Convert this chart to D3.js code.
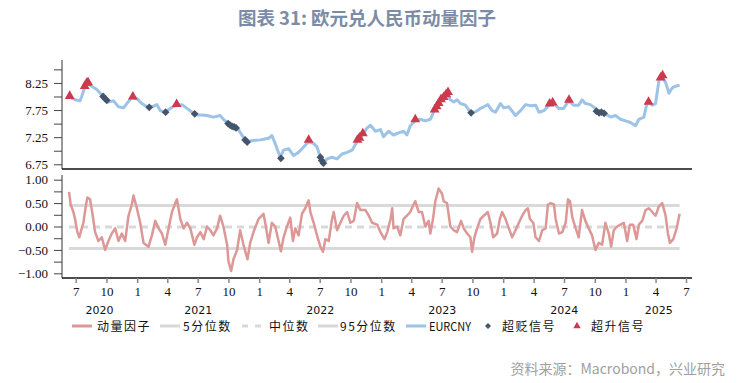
<!DOCTYPE html>
<html><head><meta charset="utf-8">
<script src="https://cdn.jsdelivr.net/npm/d3@7"></script>
<style>body{margin:0;background:#fff} svg{display:block}</style>
</head><body><svg id="c" width="753" height="383"></svg>
<script>
// ---------- DATA ----------
const title = "图表 31: 欧元兑人民币动量因子";
const source = "资料来源：Macrobond，兴业研究";

const eurcnyDates = ["2020-06-09","2020-06-29","2020-07-14","2020-07-19","2020-07-29","2020-08-05","2020-08-18","2020-09-02","2020-09-17","2020-09-27","2020-10-07","2020-10-22","2020-11-06","2020-11-21","2020-12-01","2020-12-16","2020-12-31","2021-01-15","2021-01-30","2021-02-14","2021-03-01","2021-03-11","2021-03-26","2021-04-10","2021-04-25","2021-05-15","2021-05-30","2021-06-14","2021-06-29","2021-07-14","2021-07-29","2021-08-17","2021-09-06","2021-09-16","2021-10-01","2021-10-16","2021-10-31","2021-11-10","2021-11-25","2021-12-15","2022-01-04","2022-01-14","2022-01-29","2022-02-08","2022-02-18","2022-03-05","2022-03-15","2022-03-30","2022-04-14","2022-04-29","2022-05-14","2022-05-29","2022-06-13","2022-06-23","2022-07-03","2022-07-11","2022-07-23","2022-08-07","2022-08-22","2022-09-06","2022-09-21","2022-10-06","2022-10-21","2022-11-05","2022-11-20","2022-11-30","2022-12-15","2022-12-30","2023-01-08","2023-01-23","2023-02-07","2023-02-22","2023-03-09","2023-03-19","2023-03-29","2023-04-13","2023-04-28","2023-05-13","2023-05-28","2023-06-07","2023-06-22","2023-07-07","2023-07-20","2023-07-27","2023-08-06","2023-08-16","2023-08-26","2023-09-10","2023-09-25","2023-10-10","2023-10-25","2023-11-04","2023-11-16","2023-11-29","2023-12-09","2023-12-24","2024-01-03","2024-01-18","2024-02-07","2024-02-22","2024-03-08","2024-03-23","2024-04-07","2024-04-17","2024-05-02","2024-05-22","2024-06-05","2024-06-15","2024-06-30","2024-07-15","2024-07-30","2024-08-14","2024-08-24","2024-09-03","2024-09-18","2024-10-03","2024-10-13","2024-11-02","2024-11-17","2024-12-02","2024-12-17","2025-01-01","2025-01-16","2025-01-31","2025-02-10","2025-02-25","2025-03-05","2025-03-12","2025-03-22","2025-04-01","2025-04-11","2025-04-18","2025-05-01","2025-05-11","2025-05-21","2025-05-31","2025-06-12"];
const eurcnyValues = [8.00,7.94,7.92,8.00,8.19,8.24,8.19,8.13,8.03,7.95,7.90,7.92,7.81,7.79,7.87,7.98,7.96,7.87,7.81,7.81,7.85,7.74,7.71,7.78,7.83,7.85,7.78,7.71,7.66,7.66,7.65,7.62,7.65,7.58,7.50,7.44,7.39,7.29,7.17,7.19,7.20,7.21,7.23,7.28,7.13,6.88,7.01,7.04,6.91,6.97,7.07,7.17,7.13,7.07,6.88,6.76,6.85,6.88,6.85,6.94,6.97,7.01,7.17,7.29,7.42,7.47,7.36,7.39,7.26,7.36,7.29,7.33,7.36,7.29,7.46,7.55,7.58,7.55,7.58,7.71,7.87,7.97,8.06,7.94,7.90,7.94,7.87,7.84,7.71,7.72,7.78,7.81,7.85,7.74,7.71,7.87,7.79,7.81,7.65,7.74,7.85,7.83,7.84,7.71,7.74,7.87,7.85,7.78,7.78,7.92,7.84,7.84,7.94,7.87,7.85,7.78,7.70,7.68,7.62,7.65,7.58,7.55,7.52,7.46,7.58,7.62,7.84,7.90,7.84,7.87,8.29,8.38,8.26,8.06,8.16,8.19,8.21];

const upDates = ["2020-06-13","2020-07-28","2020-08-03","2020-08-07","2020-12-19","2021-04-29","2022-05-29","2022-10-22","2022-10-28","2022-11-07","2023-04-13","2023-06-10","2023-06-16","2023-06-22","2023-06-29","2023-07-07","2023-07-14","2023-07-20","2024-05-19","2024-05-28","2024-07-16","2025-03-11","2025-04-16","2025-04-22"];
const upValues = [7.99,8.17,8.23,8.24,7.98,7.84,7.18,7.18,7.22,7.30,7.56,7.74,7.80,7.86,7.93,7.97,8.02,8.06,7.85,7.87,7.92,7.88,8.33,8.37];

const downDates = ["2020-09-21","2020-09-27","2020-10-02","2021-02-06","2021-03-27","2021-06-22","2021-09-30","2021-10-06","2021-10-12","2021-10-18","2021-10-24","2021-11-20","2021-11-26","2022-03-07","2022-07-03","2022-07-07","2022-07-12","2023-09-27","2024-10-06","2024-10-14","2024-10-21","2024-10-29"];
const downValues = [8.00,7.96,7.93,7.80,7.71,7.68,7.50,7.47,7.45,7.44,7.42,7.20,7.16,6.86,6.88,6.82,6.77,7.70,7.73,7.70,7.71,7.69];

const momDates = ["2020-06-11","2020-06-16","2020-06-24","2020-06-29","2020-07-06","2020-07-12","2020-07-19","2020-07-24","2020-08-01","2020-08-05","2020-08-13","2020-08-21","2020-08-28","2020-09-07","2020-09-17","2020-09-27","2020-10-07","2020-10-17","2020-10-27","2020-11-06","2020-11-16","2020-11-26","2020-12-06","2020-12-16","2020-12-21","2020-12-31","2021-01-10","2021-01-20","2021-02-04","2021-02-14","2021-02-24","2021-03-06","2021-03-16","2021-03-26","2021-04-05","2021-04-15","2021-04-25","2021-04-30","2021-05-10","2021-05-20","2021-05-30","2021-06-09","2021-06-21","2021-06-29","2021-07-09","2021-07-19","2021-07-29","2021-08-08","2021-08-17","2021-08-28","2021-09-06","2021-09-16","2021-09-27","2021-10-01","2021-10-09","2021-10-16","2021-10-27","2021-11-05","2021-11-15","2021-11-27","2021-12-05","2021-12-17","2021-12-30","2022-01-14","2022-01-19","2022-01-29","2022-02-08","2022-02-18","2022-02-28","2022-03-07","2022-03-15","2022-03-25","2022-04-04","2022-04-12","2022-04-19","2022-04-29","2022-05-09","2022-05-19","2022-05-29","2022-06-03","2022-06-13","2022-06-23","2022-07-03","2022-07-11","2022-07-18","2022-07-28","2022-08-07","2022-08-12","2022-08-22","2022-09-01","2022-09-11","2022-09-21","2022-10-01","2022-10-11","2022-10-21","2022-10-31","2022-11-15","2022-11-25","2022-12-05","2022-12-20","2022-12-30","2023-01-11","2023-01-19","2023-01-29","2023-02-03","2023-02-07","2023-02-18","2023-02-27","2023-03-09","2023-03-19","2023-03-29","2023-04-08","2023-04-13","2023-04-23","2023-05-03","2023-05-13","2023-05-23","2023-05-28","2023-06-05","2023-06-12","2023-06-22","2023-07-02","2023-07-07","2023-07-17","2023-07-27","2023-08-06","2023-08-16","2023-08-28","2023-09-05","2023-09-15","2023-09-25","2023-09-30","2023-10-07","2023-10-15","2023-10-25","2023-11-04","2023-11-16","2023-11-24","2023-12-02","2023-12-14","2023-12-22","2023-12-29","2024-01-08","2024-01-18","2024-01-28","2024-02-07","2024-02-17","2024-02-27","2024-03-08","2024-03-15","2024-03-21","2024-03-31","2024-04-07","2024-04-17","2024-04-27","2024-05-07","2024-05-14","2024-05-22","2024-06-01","2024-06-06","2024-06-16","2024-06-26","2024-07-06","2024-07-13","2024-07-19","2024-07-26","2024-08-05","2024-08-14","2024-08-24","2024-09-03","2024-09-13","2024-09-23","2024-10-03","2024-10-13","2024-10-23","2024-11-02","2024-11-12","2024-11-19","2024-11-27","2024-12-07","2024-12-17","2024-12-27","2025-01-06","2025-01-14","2025-01-24","2025-02-03","2025-02-10","2025-02-20","2025-03-02","2025-03-12","2025-03-22","2025-04-01","2025-04-11","2025-04-21","2025-05-01","2025-05-08","2025-05-14","2025-05-24","2025-06-03","2025-06-12"];
const momValues = [0.74,0.47,0.31,0.16,-0.12,-0.23,-0.04,0.08,0.47,0.62,0.58,0.23,-0.12,-0.31,-0.23,-0.50,-0.31,-0.15,-0.04,-0.31,-0.15,-0.31,0.23,0.47,0.66,0.39,0.08,-0.35,-0.43,-0.19,0.12,-0.04,-0.15,-0.39,-0.04,0.31,0.50,0.58,0.16,-0.04,0.08,-0.04,-0.39,-0.23,-0.12,-0.27,0.00,-0.08,-0.19,-0.04,0.23,0.00,-0.39,-0.74,-0.95,-0.70,-0.50,-0.08,-0.39,-0.70,-0.35,-0.08,0.16,0.27,0.08,-0.35,0.08,0.00,-0.31,-0.53,-0.23,0.00,0.19,-0.31,-0.04,-0.19,0.27,0.39,0.56,0.31,0.08,-0.19,-0.43,-0.54,-0.27,-0.31,0.16,0.31,-0.08,0.08,0.23,0.31,0.08,0.12,0.50,0.35,0.35,0.23,0.08,0.04,-0.12,-0.27,-0.12,0.16,0.39,-0.04,0.00,-0.19,0.16,0.23,0.31,0.47,0.54,0.31,0.31,0.00,0.12,-0.15,0.16,0.54,0.81,0.70,0.54,0.50,0.00,-0.08,-0.12,0.12,-0.04,-0.15,-0.23,-0.54,-0.23,-0.04,0.16,0.23,0.31,0.08,-0.23,-0.15,0.16,0.31,0.16,-0.04,-0.23,-0.08,0.08,0.23,0.35,0.39,0.16,0.08,-0.23,-0.31,-0.08,-0.04,0.47,0.50,0.47,0.16,-0.15,-0.12,0.08,0.58,0.54,0.19,-0.04,-0.23,0.35,0.12,-0.04,-0.19,-0.50,-0.35,-0.39,0.08,-0.15,-0.43,-0.08,0.00,0.04,0.08,-0.31,0.04,0.04,-0.27,0.04,0.12,0.35,0.39,0.31,0.23,0.43,0.50,0.23,-0.15,-0.35,-0.27,-0.04,0.27];

const q05 = -0.47, q50 = -0.01, q95 = 0.45;

const topMajorTicks = [6.75, 7.25, 7.75, 8.25];
const topMinorTicks = [7.0, 7.5, 8.0, 8.5];
const botMajorTicks = [-1, -0.5, 0, 0.5, 1];
const botMinorTicks = [-0.75, -0.25, 0.25, 0.75];
const yearLabels = ["2020","2021","2022","2023","2024","2025"];
const legendLabels = ["动量因子","5分位数","中位数","95分位数","EURCNY","超贬信号","超升信号"];

// ---------- STYLE ----------
const C = {
  eur: "#9dc3e6", mom: "#dc9896", q: "#d9d9d9", down: "#44546a", up: "#cc3a4e",
  title: "#7d8ca6", src: "#a0a0a0"
};
const parse = d3.utcParse("%Y-%m-%d");
const svg = d3.select("#c");

const x = d3.scaleUtc().domain([parse("2020-05-21"), parse("2025-07-19")]).range([62, 692]);
const yTop = d3.scaleLinear().domain([6.663, 8.673]).range([169, 60]);
const yBot = d3.scaleLinear().domain([-1.1, 1.1]).range([278, 175]);

// title
svg.append("text").attr("x", 367).attr("y", 25).attr("text-anchor", "middle")
  .style("font-family", "'Noto Sans CJK SC', sans-serif").style("font-weight", "bold")
  .style("font-size", "18.5px").attr("fill", C.title).text(title);

// ---------- TOP PANEL ----------
const serif = "'Liberation Serif', 'Times New Roman', serif";
const topAxis = d3.axisLeft(yTop).tickValues(topMajorTicks.concat(topMinorTicks))
  .tickSize(8).tickPadding(6)
  .tickFormat(d => topMajorTicks.includes(d) ? d3.format(".2f")(d) : "");
const gTop = svg.append("g").attr("transform", "translate(62,0)").call(topAxis);
gTop.select(".domain").attr("stroke", "#333").attr("d", "M0,60V169");
gTop.selectAll(".tick line").attr("stroke", "#444");
gTop.selectAll(".tick text").style("font-family", serif).style("font-size", "13px").attr("fill", "#111");
svg.append("line").attr("x1", 62).attr("x2", 692).attr("y1", 169).attr("y2", 169)
  .attr("stroke", "#111").attr("stroke-width", 1.5);

const eurData = eurcnyDates.map((d, i) => ({ d: parse(d), v: eurcnyValues[i] }));
svg.append("path").datum(eurData)
  .attr("d", d3.line().x(p => x(p.d)).y(p => yTop(p.v)))
  .attr("fill", "none").attr("stroke", C.eur).attr("stroke-width", 3).attr("stroke-linejoin", "round");

const downSym = d3.symbol().type(d3.symbolSquare).size(30);
svg.append("g").selectAll("path").data(downDates.map((d, i) => ({ d: parse(d), v: downValues[i] })))
  .join("path").attr("d", downSym)
  .attr("transform", p => `translate(${x(p.d)},${yTop(p.v)}) rotate(45)`)
  .attr("fill", C.down);

const upSym = d3.symbol().type(d3.symbolTriangle).size(42);
svg.append("g").selectAll("path").data(upDates.map((d, i) => ({ d: parse(d), v: upValues[i] })))
  .join("path").attr("d", upSym)
  .attr("transform", p => `translate(${x(p.d)},${yTop(p.v) - 1})`)
  .attr("fill", C.up);

// ---------- BOTTOM PANEL ----------
const botAxis = d3.axisLeft(yBot).tickValues(botMajorTicks.concat(botMinorTicks))
  .tickSize(8).tickPadding(6)
  .tickFormat(d => botMajorTicks.includes(d) ? d3.format(".2f")(d) : "");
const gBot = svg.append("g").attr("transform", "translate(62,0)").call(botAxis);
gBot.select(".domain").attr("stroke", "#333").attr("d", "M0,175V278");
gBot.selectAll(".tick line").attr("stroke", "#444");
gBot.selectAll(".tick text").style("font-family", serif).style("font-size", "13px").attr("fill", "#111");

const momData = momDates.map((d, i) => ({ d: parse(d), v: momValues[i] }));
const x0 = x(momData[0].d), x1 = x(momData[momData.length - 1].d);
[[q95, null], [q05, null], [q50, "7,5"]].forEach(([v, dash]) => {
  svg.append("line").attr("x1", x0).attr("x2", x1).attr("y1", yBot(v)).attr("y2", yBot(v))
    .attr("stroke", C.q).attr("stroke-width", 3).attr("stroke-dasharray", dash);
});
svg.append("path").datum(momData)
  .attr("d", d3.line().x(p => x(p.d)).y(p => yBot(p.v)))
  .attr("fill", "none").attr("stroke", C.mom).attr("stroke-width", 2.5).attr("stroke-linejoin", "round");

// x axis
const xAxis = d3.axisBottom(x)
  .tickValues(d3.utcMonth.every(3).range(parse("2020-07-01"), parse("2025-07-02")))
  .tickSize(5).tickPadding(4).tickFormat(d => d.getUTCMonth() + 1);
const gX = svg.append("g").attr("transform", "translate(0,278)").call(xAxis);
gX.select(".domain").attr("stroke", "#111").attr("stroke-width", 1.5).attr("d", "M62,0H692");
gX.selectAll(".tick line").attr("stroke", "#888").attr("stroke-width", 1.5);
gX.selectAll(".tick text").style("font-family", serif).style("font-size", "13px").attr("fill", "#111");

// year labels
const [dMin, dMax] = x.domain();
svg.append("g").selectAll("text").data(yearLabels).join("text")
  .attr("x", y => {
    const a = new Date(Math.max(Date.UTC(+y, 0, 1), dMin));
    const b = new Date(Math.min(Date.UTC(+y + 1, 0, 1), dMax));
    return (x(a) + x(b)) / 2;
  })
  .attr("y", 314).attr("text-anchor", "middle")
  .style("font-family", "'DejaVu Sans', sans-serif").style("font-size", "11px").attr("fill", "#111")
  .text(y => y);

// ---------- LEGEND ----------
const lg = svg.append("g").style("font-family", "'Noto Sans CJK SC', sans-serif")
  .style("font-size", "12px").attr("fill", "#111");
const ly = 326;
const legendItems = [
  { t: "line", c: C.mom, x: 72, tx: 97, ls: 1.5 },
  { t: "line", c: C.q, x: 160, tx: 183, ls: 1.5 },
  { t: "dash", c: C.q, x: 242, tx: 269, ls: 1.5 },
  { t: "line", c: C.q, x: 318, tx: 340, ls: 1.5 },
  { t: "line", c: C.eur, x: 406, tx: 429, ls: 0 },
  { t: "down", c: C.down, x: 488, tx: 502, ls: 1.5 },
  { t: "up", c: C.up, x: 577, tx: 591, ls: 1.5 }
];
legendItems.forEach((it, i) => {
  if (it.t === "line" || it.t === "dash") {
    lg.append("line").attr("x1", it.x).attr("x2", it.x + 20).attr("y1", ly).attr("y2", ly)
      .attr("stroke", it.c).attr("stroke-width", 3).attr("stroke-dasharray", it.t === "dash" ? "6,7" : null);
  } else if (it.t === "down") {
    lg.append("path").attr("d", d3.symbol().type(d3.symbolSquare).size(18)())
      .attr("transform", `translate(${it.x},${ly}) rotate(45)`).attr("fill", it.c);
  } else {
    lg.append("path").attr("d", d3.symbol().type(d3.symbolTriangle).size(24)())
      .attr("transform", `translate(${it.x},${ly})`).attr("fill", it.c);
  }
  const t = lg.append("text").attr("x", it.tx).attr("y", ly + 4.5)
    .style("letter-spacing", it.ls + "px").text(legendLabels[i]);
  if (it.ls === 0) t.style("font-size", "11.5px").attr("textLength", 42).attr("lengthAdjust", "spacingAndGlyphs");
});

// source
svg.append("text").attr("x", 725).attr("y", 374).attr("text-anchor", "end")
  .style("font-family", "'Noto Sans CJK SC', sans-serif").style("font-size", "14px")
  .attr("fill", C.src).text(source);
</script>
</body></html>
